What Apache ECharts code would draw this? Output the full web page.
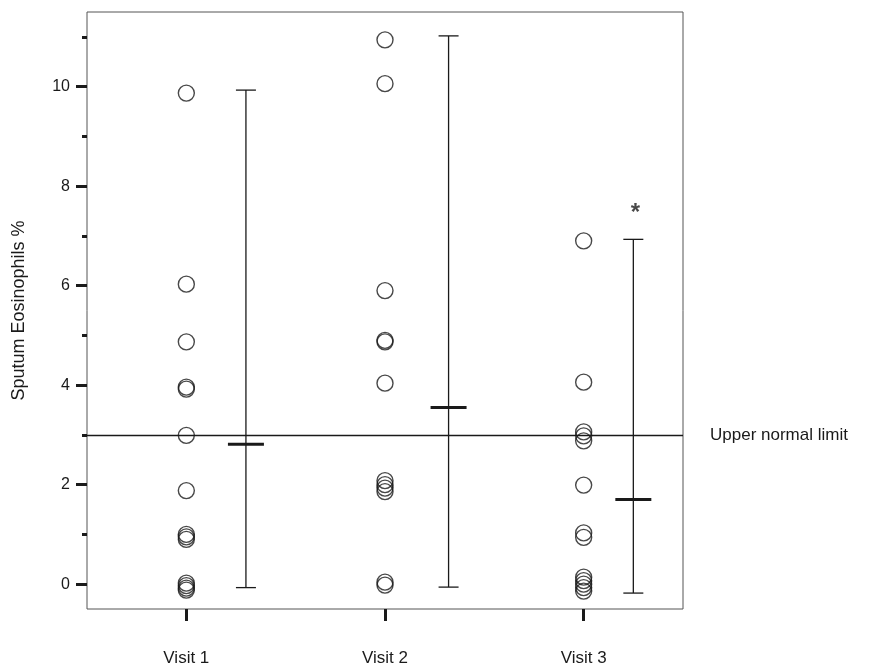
<!DOCTYPE html>
<html lang="en">

<head>
    <meta charset="UTF-8">
    <title>Sputum Eosinophils %</title>
    <script src="https://cdn.jsdelivr.net/npm/echarts@6/dist/echarts.min.js"></script>
    <style type="text/css">
        html, body { margin: 0; padding: 0; background: #fff; }
        #main { width: 871px; height: 668px; }
    </style>
</head>

<body>
    <div id="main"></div>
    <script type="text/javascript">
    // visits and where they sit on the x axis
    var visitNames = ['Visit 1', 'Visit 2', 'Visit 3'];
    var visitPos = [1, 2, 3];

    // individual patient values (%)
    var visit1Values = [9.87, 6.03, 4.87, 3.96, 3.92, 2.99, 1.88, 1.0, 0.95, 0.9, 0.02, -0.03, -0.08, -0.12];
    var visit2Values = [10.94, 10.06, 5.9, 4.9, 4.87, 4.04, 2.08, 2.0, 1.93, 1.86, 0.04, -0.02];
    var visit3Values = [6.9, 4.06, 3.06, 2.98, 2.88, 1.99, 1.03, 0.94, 0.14, 0.07, 0.0, -0.07, -0.14];

    // range bars (min - max) with the mean
    var barPos = [1.3, 2.32, 3.25];
    var barLow = [-0.07, -0.06, -0.18];
    var barHigh = [9.93, 11.02, 6.93];
    var barMean = [2.81, 3.55, 1.70];

    var upperNormalLimit = 3;
    var asteriskPoint = [3.26, 7.45];

    var yLabelValues = [0, 2, 4, 6, 8, 10];
    var yMinorValues = [1, 3, 5, 7, 9, 11];

    var font = 'Liberation Sans, Arial, sans-serif';
    var ink = '#1a1a1a';

    var myChart = echarts.init(document.getElementById('main'));

    function pointsFor(pos, values) {
        return values.map(function(v) { return [pos, v]; });
    }

    var barData = barPos.map(function(x, i) {
        return [x, barLow[i], barHigh[i], barMean[i]];
    });

    // draws the whisker: vertical line, two caps, thick mean mark
    function renderRange(params, api) {
        var x = api.value(0);
        var top = api.coord([x, api.value(2)]);
        var bot = api.coord([x, api.value(1)]);
        var mid = api.coord([x, api.value(3)]);
        var thin = { stroke: ink, lineWidth: 1.3 };
        return {
            type: 'group',
            children: [
                { type: 'line', shape: { x1: top[0], y1: top[1], x2: bot[0], y2: bot[1] }, style: thin },
                { type: 'line', shape: { x1: top[0] - 10, y1: top[1], x2: top[0] + 10, y2: top[1] }, style: thin },
                { type: 'line', shape: { x1: bot[0] - 10, y1: bot[1], x2: bot[0] + 10, y2: bot[1] }, style: thin },
                { type: 'line', shape: { x1: mid[0] - 18, y1: mid[1], x2: mid[0] + 18, y2: mid[1] }, style: { stroke: ink, lineWidth: 3 } }
            ]
        };
    }

    var circleStyle = {
        color: 'rgba(255,255,255,0)',
        borderColor: ink,
        borderWidth: 1.4
    };

    var option = {
        animation: false,
        grid: {
            left: 87,
            top: 12,
            right: 188,
            bottom: 59,
            show: true,
            borderColor: '#555',
            borderWidth: 1
        },
        xAxis: {
            type: 'value',
            min: 0.5,
            max: 3.5,
            splitLine: { show: false },
            axisLine: { show: false, onZero: false },
            axisTick: {
                show: true,
                customValues: visitPos,
                length: 12,
                lineStyle: { color: ink, width: 3 }
            },
            axisLabel: {
                customValues: visitPos,
                margin: 41,
                color: ink,
                fontSize: 17,
                fontFamily: font,
                formatter: function(v) { return visitNames[Math.round(v) - 1]; }
            }
        },
        yAxis: [{
            type: 'value',
            min: -0.5,
            max: 11.5,
            name: 'Sputum Eosinophils %',
            nameLocation: 'middle',
            nameGap: 59,
            nameTextStyle: { color: ink, fontSize: 18, fontFamily: font },
            splitLine: { show: false },
            axisLine: { show: false, onZero: false },
            axisTick: {
                show: true,
                customValues: yLabelValues,
                length: 11,
                lineStyle: { color: ink, width: 3 }
            },
            axisLabel: {
                customValues: yLabelValues,
                margin: 17,
                color: ink,
                fontSize: 16,
                fontFamily: font
            }
        }, {
            type: 'value',
            min: -0.5,
            max: 11.5,
            position: 'left',
            splitLine: { show: false },
            axisLine: { show: false, onZero: false },
            axisTick: {
                show: true,
                customValues: yMinorValues,
                length: 5,
                lineStyle: { color: ink, width: 3 }
            },
            axisLabel: { show: false }
        }],
        series: [{
            type: 'scatter',
            symbol: 'circle',
            symbolSize: 16,
            itemStyle: circleStyle,
            data: pointsFor(visitPos[0], visit1Values)
        }, {
            type: 'scatter',
            symbol: 'circle',
            symbolSize: 16,
            itemStyle: circleStyle,
            data: pointsFor(visitPos[1], visit2Values)
        }, {
            type: 'scatter',
            symbol: 'circle',
            symbolSize: 16,
            itemStyle: circleStyle,
            data: pointsFor(visitPos[2], visit3Values)
        }, {
            type: 'custom',
            renderItem: renderRange,
            data: barData,
            z: 3,
            markLine: {
                silent: true,
                symbol: 'none',
                lineStyle: { color: ink, width: 1.3, type: 'solid' },
                label: {
                    position: 'end',
                    distance: 27,
                    formatter: 'Upper normal limit',
                    color: ink,
                    fontSize: 17,
                    fontFamily: font
                },
                data: [{ yAxis: upperNormalLimit }]
            }
        }, {
            type: 'scatter',
            symbol: 'circle',
            symbolSize: 2,
            itemStyle: { color: 'rgba(255,255,255,0)' },
            data: [asteriskPoint],
            label: {
                show: true,
                position: 'inside',
                formatter: '*',
                color: ink,
                fontSize: 24,
                fontWeight: 'bold',
                fontFamily: font
            }
        }]
    };

    myChart.setOption(option);
    </script>
</body>

</html>
